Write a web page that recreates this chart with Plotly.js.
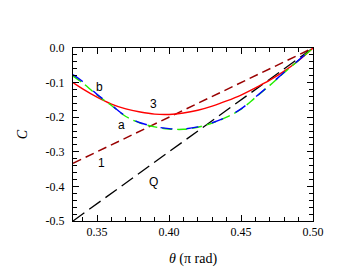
<!DOCTYPE html>
<html>
<head>
<meta charset="utf-8">
<script src="https://cdn.plot.ly/plotly-3.0.1.min.js"></script>
<style>html,body{margin:0;padding:0;background:#fff;}#chart{width:338px;height:272px;}</style>
</head>
<body>
<div id="chart"></div>
<script>
// theta grid (pi rad)
var theta = [0.3333, 0.34, 0.35, 0.36, 0.37, 0.38, 0.39, 0.40, 0.41, 0.42, 0.43, 0.44, 0.45, 0.46, 0.47, 0.48, 0.49, 0.50];
// curve 3 (red)
var curve3 = [-0.100, -0.118, -0.142, -0.162, -0.176, -0.185, -0.191, -0.192, -0.188, -0.180, -0.168, -0.153, -0.136, -0.115, -0.093, -0.067, -0.036, 0.000];
// curve b (blue)
var curveB = [-0.077, -0.097, -0.134, -0.165, -0.197, -0.216, -0.227, -0.233, -0.234, -0.228, -0.216, -0.199, -0.176, -0.142, -0.107, -0.070, -0.035, 0.000];
// curve a (green)
var curveA = [-0.081, -0.101, -0.136, -0.166, -0.198, -0.217, -0.228, -0.234, -0.235, -0.229, -0.217, -0.200, -0.177, -0.143, -0.108, -0.071, -0.036, 0.000];
// line 1 (brown dashed) and Q (black long dashed)
var lineTheta = [0.3333, 0.50];
var line1 = [-0.3333, 0.0];
var lineQ = [-0.5, 0.0];

var xTickVals = [0.35, 0.40, 0.45, 0.50];
var xTickText = ["0.35", "0.40", "0.45", "0.50"];
var yTickVals = [0.0, -0.1, -0.2, -0.3, -0.4, -0.5];
var yTickText = ["0.0", "-0.1", "-0.2", "-0.3", "-0.4", "-0.5"];

var labelText = ["b", "3", "a", "1", "Q"];
var labelX = [0.3519, 0.3889, 0.3669, 0.3530, 0.3894];
var labelY = [-0.112, -0.162, -0.223, -0.332, -0.386];

var traces = [
  {x: lineTheta, y: line1, mode: 'lines', line: {color: '#990000', width: 1.5, dash: '9px,5px'}},
  {x: lineTheta, y: lineQ, mode: 'lines', line: {color: '#000000', width: 1.3, dash: '14px,6px'}},
  {x: theta, y: curve3, mode: 'lines', line: {color: '#ff0000', width: 1.4, shape: 'spline'}},
  {x: theta, y: curveA, mode: 'lines', line: {color: '#22ee00', width: 1.4, dash: '10px,5px', shape: 'spline'}},
  {x: theta, y: curveB, mode: 'lines', line: {color: '#0000ff', width: 1.4, dash: '12px,14px', shape: 'spline'}}
];

var annotations = labelText.map(function(t, i) {
  return {x: labelX[i], y: labelY[i], text: t, showarrow: false, xref: 'x', yref: 'y',
          font: {family: 'Liberation Sans', size: 12, color: '#000'}};
});

var serif = 'Liberation Serif';
var layout = {
  width: 338, height: 272,
  margin: {l: 73, r: 25, t: 48, b: 51},
  paper_bgcolor: '#fff', plot_bgcolor: '#fff',
  showlegend: false,
  xaxis: {
    range: [0.3333, 0.5], showgrid: false, zeroline: false,
    showline: true, linecolor: '#000', linewidth: 1, mirror: 'ticks',
    ticks: 'inside', ticklen: 6, tickcolor: '#000',
    tickmode: 'array', tickvals: xTickVals, ticktext: xTickText,
    minor: {tickmode: 'linear', tick0: 0.3, dtick: 0.01, ticks: 'inside', ticklen: 4, tickcolor: '#000', showgrid: false},
    tickfont: {family: serif, size: 12, color: '#000'},
    ticklabelstandoff: 0,
    title: {text: '<i>θ</i> (π rad)', font: {family: serif, size: 14, color: '#000'}, standoff: 14}
  },
  yaxis: {
    range: [-0.5, 0.0], showgrid: false, zeroline: false,
    showline: true, linecolor: '#000', linewidth: 1, mirror: 'ticks',
    ticks: 'inside', ticklen: 6, tickcolor: '#000',
    tickmode: 'array', tickvals: yTickVals, ticktext: yTickText,
    minor: {tickmode: 'linear', tick0: 0, dtick: 0.02, ticks: 'inside', ticklen: 4, tickcolor: '#000', showgrid: false},
    tickfont: {family: serif, size: 12, color: '#000'},
    ticklabelstandoff: 5,
    title: {text: '<i>C</i>', font: {family: serif, size: 14, color: '#000'}, standoff: 14}
  },
  annotations: annotations
};

Plotly.newPlot('chart', traces, layout, {displayModeBar: false, staticPlot: true});
</script>
</body>
</html>
